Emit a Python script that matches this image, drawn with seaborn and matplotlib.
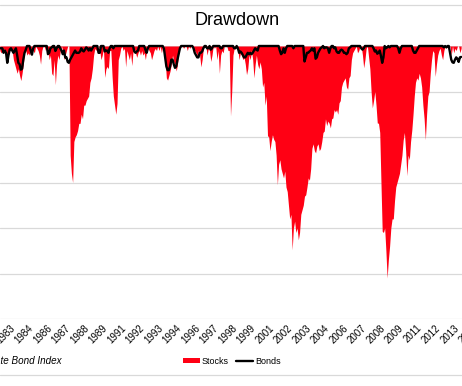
import matplotlib
matplotlib.use("Agg")
import numpy as np
import pandas as pd
import seaborn as sns
from matplotlib import pyplot as plt
from matplotlib.lines import Line2D
from matplotlib.patches import Patch

# monthly drawdown (%), Dec 1982 .. Feb 2014
months = pd.date_range("1982-12-01", "2014-02-01", freq="MS")

stocks = [
    -1.0,
    -1.5, -1, -0.5, -1.5, -1, -3.7, -2, -1, -0.5, -1, -3, -4,                 # 1983
    -5, -6, -5, -6.5, -7.6, -6, -4, -1.5, -1, -2, -1.5, -2,                   # 1984
    -1, 0, -1, -1.5, 0, -0.5, -1, -2, -4, -1, 0, 0,                           # 1985
    -1, 0, -1, -3, -2, -6, -6.5, -3, -8.5, -4, -2, -3,                        # 1986
    -1, 0, -1, -3, -2, -1, 0, 0, -24, -28, -30, -21,                          # 1987
    -20, -19.5, -18.6, -17, -17, -15, -16, -13, -13, -12, -11.5, -11,         # 1988
    -8, -7, -5, -2, -0.5, -1, 0, 0, -1, -3, -2, -0.5,                         # 1989
    -6.9, -5, -4.5, -5, -1, -1, -6.7, -11, -13, -15, -12.6, -3,               # 1990
    -2, -0.5, 0, -1, -0.5, -4.6, -1, -2, -3, -1.5, -4.3, -1,                  # 1991
    -0.5, -1.5, -2.5, -1.5, -1, -2, -1, -2, -1.5, -3, -1, -0.5,               # 1992
    -1, -1.5, -3, -2, -1, -0.5, -1, 0, -1, 0, -1.5, 0,                        # 1993
    0, -3, -7, -7.5, -6.5, -5.5, -4, -2, -3.5, -4, -5.5, -4,                  # 1994
    -1.5, -0.5, 0, 0, -0.5, 0, 0, -1, 0, -0.5, 0, 0,                          # 1995
    -0.5, -1, -1.5, -2, -1, -2, -4.6, -3, -0.5, 0, 0, -2,                     # 1996
    -0.5, -1, -3.4, -2, 0, -0.5, 0, -3, -1, -6, -2, -1,                       # 1997
    -1.5, 0, 0, 0, -1, -1, -15.4, -10, -2, -0.5, 0, 0,                        # 1998
    -1, -3, -1.5, -2, -3, -2.5, -4, -6.3, -5, -2, -3, -1,                     # 1999
    -3, -7, -4, -2, -4, -5, -3.5, -5, -9, -8, -13, -11,                       # 2000
    -19.7, -20, -23, -21, -19.5, -20.5, -21, -24, -30.5, -26, -25, -27,       # 2001
    -28, -29, -27.5, -31, -32, -35, -38, -37, -44.8, -40, -38.5, -41,         # 2002
    -40, -42.6, -41, -37, -36, -35, -33, -32.7, -31, -29, -29.5, -27,         # 2003
    -22.5, -21.5, -23, -23.5, -22, -21.5, -23, -22.5, -21, -19, -18.7, -16,   # 2004
    -17.5, -16.5, -17, -18, -16, -15.8, -14, -14.5, -14, -15, -12.5, -12,     # 2005
    -9, -8, -7.5, -7, -9, -9.5, -7, -6.5, -3, -1.5, -1, -0.5,                 # 2006
    0, -1.5, -1, 0, 0, -2, -4.8, -3, -0.5, 0, -2.5, -5,                       # 2007
    -10, -13.6, -12, -10, -13, -16.9, -17, -19, -30, -40.7, -41, -40,         # 2008
    -45, -51, -47, -44, -40, -38, -38, -34, -31, -30, -29, -28,               # 2009
    -26, -24, -20.7, -19, -23, -28.5, -24, -25, -21, -18.5, -15, -11,         # 2010
    -8, -7, -7.5, -6, -7, -9, -13, -16, -20.6, -15, -11, -10,                 # 2011
    -6, -3, -1, -1.5, -6.7, -4, -2, -1, -0.5, -2, -3, -1,                     # 2012
    0, -0.5, 0, -0.5, 0, -2, 0, -1.5, -0.5, -1, 0, 0,                         # 2013
    -1.5, -0.5,                                                               # 2014
]

bonds = [
    -0.5,
    -0.5, -0.5, -1.5, -1, -1.5, -3.7, -2, -0.8, -0.5, -1, -1.5, -1,           # 1983
    -0.5, -2, -3.7, -4, -5.2, -5, -3, -1.5, -0.8, 0, 0, 0,                    # 1984
    -1, -1.9, -0.5, 0, 0, 0, 0, 0, 0, 0, 0, 0,                                # 1985
    0, 0, -1.8, -1.5, -0.5, -0.3, 0, 0, -1.1, -0.5, 0, 0,                     # 1986
    -0.5, -1, -1.8, -1, -2.5, -2.5, -3.5, -3.7, -3, -2.5, -2, -1.5,           # 1987
    -1, -1.5, -1.5, -1.5, -1.2, -0.5, -1, -1.2, -0.8, -0.3, -0.5, -1,         # 1988
    -0.5, -1, -0.5, 0, 0, 0, 0, -1.5, -1.5, 0, 0, 0,                          # 1989
    -1.2, -1, -1, -1.5, -0.5, 0, 0, -0.5, 0, 0, 0, 0,                         # 1990
    0, 0, 0, 0, 0, 0, 0, 0, 0, 0, 0, 0,                                       # 1991
    -1.2, -1.5, -1.2, -1, 0, 0, 0, 0, 0, -0.8, -1.5, -0.5,                    # 1992
    0, 0, 0, 0, 0, 0, 0, 0, 0, 0, 0, 0,                                       # 1993
    -0.5, -2.5, -4.5, -5.3, -5.3, -4.5, -3, -3, -4, -4.8, -4.5, -3,           # 1994
    -1.8, -0.5, 0, 0, 0, 0, 0, 0, 0, 0, 0, 0,                                 # 1995
    -0.5, -1.5, -2, -2.5, -2.5, -1.5, -1.5, -1.2, -0.5, 0, 0, -0.5,           # 1996
    -0.5, 0, -0.8, -0.5, 0, 0, 0, 0, 0, 0, -0.5, -0.5,                        # 1997
    0, 0, 0, 0, 0, 0, 0, 0, 0, -0.5, -0.5, 0,                                 # 1998
    -0.5, -1.5, -1.2, -1.5, -2, -2.5, -2.5, -2, -1.5, -1.8, -1.5, -1.8,       # 1999
    -1.5, -1, -0.5, -0.8, -1, 0, 0, 0, 0, 0, 0, 0,                            # 2000
    0, 0, 0, 0, 0, 0, 0, 0, 0, 0, -1, -1.8,                                   # 2001
    -1.5, -0.5, -1.5, -0.5, 0, 0, 0, 0, 0, -0.5, 0, 0,                        # 2002
    0, 0, 0, 0, 0, 0, -3.4, -2.5, -1.5, -1.5, -1.2, -1,                       # 2003
    -0.5, -1, -0.5, -2.8, -2.5, -1.5, -1, -0.5, -0.3, 0, -0.5, -0.3,          # 2004
    -0.3, -0.5, -1.5, -0.5, 0, 0, -0.5, -0.3, -1.2, -1.5, -1.5, -1,           # 2005
    -0.8, -1, -1.5, -1.5, -1.8, -1.5, -0.5, -0.3, 0, 0, 0, 0,                 # 2006
    0, 0, 0, 0, -0.5, -0.8, -0.5, 0, 0, 0, 0, 0,                              # 2007
    0, 0, -0.5, -1.2, -1, -1.7, -1.5, -1, -2.2, -3.7, -2.5, 0,                # 2008
    -0.5, -0.3, 0, -0.3, 0, 0, 0, 0, 0, 0, -0.5, -1.5,                        # 2009
    -0.5, 0, 0, 0, 0, 0, 0, 0, 0, 0, -1, -1.5,                                # 2010
    -1.5, -1, -0.5, 0, 0, 0, 0, 0, 0, 0, 0, 0,                                # 2011
    0, 0, 0, 0, 0, 0, 0, 0, 0, 0, 0, -0.3,                                    # 2012
    0, -0.3, 0, 0, -1.5, -3, -3.6, -3.7, -3, -2.5, -2.8, -3.5,                # 2013
    -2.5, -2.4,                                                               # 2014
]

# excel shows every 15th category label
tick_months = pd.date_range("1983-08-01", periods=26, freq="15MS")

RED = "#ff0014"
GRID = "#d9d9d9"

sns.set_theme(style="white")
plt.rcParams["font.family"] = ["Liberation Sans", "DejaVu Sans"]

def to_year(d):
    return d.year + (d.month - 1) / 12.0

df = pd.DataFrame({"t": to_year(months), "stocks": stocks, "bonds": bonds})

# the plot area runs past the right edge of the picture (cropped chart)
W, H = 462, 386
PX_PER_YEAR = 14.8
ax_w = 480
x0 = 1983.0 - 1.1 / PX_PER_YEAR

fig = plt.figure(figsize=(W / 100, H / 100), dpi=100)
ax = fig.add_axes([0.0, 67 / H, ax_w / W, 273 / H])

ax.fill_between(df["t"], df["stocks"], 0, color=RED, lw=0, zorder=2)
sns.lineplot(data=df, x="t", y="bonds", color="black", lw=1.7, ax=ax, zorder=3, clip_on=False)

ax.set_yticks(np.arange(-60, 1, 10))
ax.set_yticklabels([])
ax.yaxis.grid(True, color=GRID, lw=0.9)
ax.tick_params(axis="y", length=0)
for s in ax.spines.values():
    s.set_visible(False)

ax.set_xticks(to_year(tick_months))
ax.set_xticklabels([str(d.year) for d in tick_months], rotation=45, ha="right",
                   va="top", rotation_mode="anchor", fontsize=7, color="black")
ax.tick_params(axis="x", length=0, pad=3)
ax.set_xlabel("")
ax.set_ylabel("")
# set limits after the ticks, set_xticks would widen them
ax.set_xlim(x0, x0 + ax_w / PX_PER_YEAR)
ax.set_ylim(-60, 0)

fig.text(0.514, 0.948, "Drawdown", ha="center", va="center", fontsize=13, color="black")

for yp in (4.5, 375):
    fig.add_artist(Line2D([0, 1], [1 - yp / H] * 2, transform=fig.transFigure, color=GRID, lw=0.9))

handles = [Patch(facecolor=RED, edgecolor="none", label="Stocks"),
           Line2D([], [], color="black", lw=1.7, label="Bonds")]
leg = fig.legend(handles=handles, loc="center", bbox_to_anchor=(0.502, 1 - 361 / H), ncol=2,
                 frameon=False, fontsize=6.5, handlelength=1.9, handleheight=0.5,
                 handletextpad=0.25, columnspacing=0.8)
for txt in leg.get_texts():
    txt.set_color("black")

fig.text(62 / W, 1 - 361 / H, "Bonds: Barclays U.S. Aggregate Bond Index",
         ha="right", va="center", style="italic", fontsize=7.1, color="black")

fig.savefig("out.png", dpi=100)
